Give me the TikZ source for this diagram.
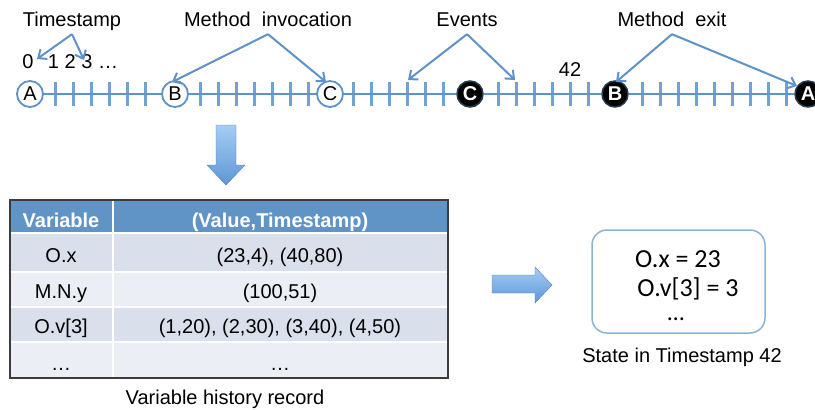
\documentclass[tikz,border=0pt]{standalone}
\usepackage{fontspec}
\setmainfont{Liberation Sans}
\newfontfamily\statefont{Carlito}
\usetikzlibrary{arrows.meta,positioning}

\definecolor{lineblue}{RGB}{94,146,200}
\definecolor{tickblue}{RGB}{112,162,212}
\definecolor{headblue}{RGB}{97,148,198}
\definecolor{rowdark}{RGB}{217,224,236}
\definecolor{rowlight}{RGB}{235,238,244}
\definecolor{edgegray}{RGB}{60,60,60}
\definecolor{boxblue}{RGB}{140,178,218}
\definecolor{fadetop}{RGB}{165,205,245}
\definecolor{fadebot}{RGB}{95,150,215}

\tikzset{
  openpt/.style={circle, draw=lineblue, line width=1.8pt, fill=white,
    minimum size=26pt, inner sep=0pt, font=\fontsize{20}{20}\selectfont},
  closept/.style={circle, draw=black!60!lineblue, line width=1.5pt, fill=black,
    text=white, minimum size=26pt, inner sep=0pt,
    font=\bfseries\fontsize{20}{20}\selectfont},
  tickline/.style={tickblue, line width=3pt},
  axis/.style={lineblue, line width=2.2pt},
  pointer/.style={lineblue, line width=2pt, -{Straight Barb[length=7pt,width=12pt]}},
  callout/.style={anchor=base, text depth=6pt, inner sep=2pt},
  cell/.style={anchor=base},
  headcell/.style={anchor=base, text=white, font=\bfseries\fontsize{20}{24}\selectfont},
  blockarrow/.style={top color=fadetop, bottom color=fadebot, draw=fadebot!85!black, line width=0.4pt},
  statebox/.style={draw=boxblue, line width=1.5pt, rounded corners=15pt,
    minimum width=173pt, minimum height=103pt}
}

\begin{document}
\begin{tikzpicture}[x=1pt, y=-1pt, font=\fontsize{20}{24}\selectfont]
  \useasboundingbox (0,0) rectangle (815,410);

  % ticks of the timeline
  \foreach \t in {55,73,...,145} \draw[tickline] (\t,82) -- (\t,106);
  \foreach \t in {200,218,...,308} \draw[tickline] (\t,82) -- (\t,106);
  \foreach \t in {353,371,...,443} \draw[tickline] (\t,82) -- (\t,106);
  \foreach \t in {498,516,...,588} \draw[tickline] (\t,82) -- (\t,106);
  \foreach \t in {642,660,...,786} \draw[tickline] (\t,82) -- (\t,106);

  % method invocations and exits
  \node[openpt] (tA) at (30,94) {A};
  \node[openpt] (tB) at (175,94) {B};
  \node[openpt] (tC) at (330,94) {C};
  \node[closept] (tC2) at (470,94) {C};
  \node[closept] (tB2) at (615,94) {B};
  \node[closept] (tA2) at (808,94) {A};
  \draw[axis] (tA) -- (tB) -- (tC) -- (tC2) -- (tB2) -- (tA2);

  % labels
  \node[callout] (lStamp) at (72,26) {Timestamp};
  \node[callout] (lInvoke) at (268,26) {Method\ \ invocation};
  \node[callout] (lEvents) at (467,26) {Events};
  \node[callout] (lExit) at (672,26) {Method\ \ exit};
  \node[cell] (n0) at (28,68) {0};
  \node[cell] (n123) at (83,68) {1 2 3 …};
  \node[cell] (n42) at (570,76) {42};

  % pointers
  \coordinate (eZero) at (37,59); \coordinate (eThree) at (84,60);
  \coordinate (eInvB) at (172,82); \coordinate (eInvC) at (326,82);
  \coordinate (eEvL) at (408,80); \coordinate (eEvR) at (515,80);
  \coordinate (eExB) at (616,82); \coordinate (eExA) at (797,86);
  \draw[pointer] (lStamp.south) -- (eZero);
  \draw[pointer] (lStamp.south) -- (eThree);
  \draw[pointer] (lInvoke.south) -- (eInvB);
  \draw[pointer] (lInvoke.south) -- (eInvC);
  \draw[pointer] (lEvents.south) -- (eEvL);
  \draw[pointer] (lEvents.south) -- (eEvR);
  \draw[pointer] (lExit.south) -- (eExB);
  \draw[pointer] (lExit.south) -- (eExA);

  % block arrows
  \shade[blockarrow] (216,125) -- (236,125) -- (236,165) -- (245,165) -- (226,185)
    -- (207,165) -- (216,165) -- cycle;
  \shade[blockarrow] (492,275) -- (535,275) -- (535,267) -- (552,285) -- (535,303)
    -- (535,293) -- (492,293) -- cycle;

  % history table
  \fill[headblue] (10,200) rectangle (448,233);
  \fill[rowdark] (10,233) rectangle (448,272);
  \fill[rowlight] (10,272) rectangle (448,307);
  \fill[rowdark] (10,307) rectangle (448,342);
  \fill[rowlight] (10,342) rectangle (448,378);
  \foreach \y in {233,272,307,342} \draw[white, line width=2pt] (10,\y) -- (448,\y);
  \draw[white, line width=2pt] (113,200) -- (113,378);
  \draw[edgegray, line width=1.5pt] (10,200) rectangle (448,378);

  \node[headcell] (hVar) at (61,227) {Variable};
  \node[headcell] (hVal) at (280,227) {(Value,Timestamp)};
  \node[cell] (vOx) at (61,262) {O.x};
  \node[cell] (rOx) at (280,262) {(23,4), (40,80)};
  \node[cell] (vMNy) at (61,298) {M.N.y};
  \node[cell] (rMNy) at (280,298) {(100,51)};
  \node[cell] (vOv) at (61,333) {O.v[3]};
  \node[cell] (rOv) at (280,333) {(1,20), (2,30), (3,40), (4,50)};
  \node[cell] (vMore) at (61,370) {…};
  \node[cell] (rMore) at (280,370) {…};
  \node[cell] (histcap) at (225,404) {Variable history record};

  % state at timestamp 42
  \node[statebox] (state) at (678.5,281.5) {};
  \node[cell, font=\statefont\fontsize{26}{30}\selectfont] (sOx) at (678,267) {O.x = 23};
  \node[cell, font=\statefont\fontsize{26}{30}\selectfont] (sOv) at (688,296) {O.v[3] = 3};
  \node[cell, font=\statefont\fontsize{24}{28}\selectfont] (sMore) at (676,320) {…};
  \node[cell] (statecap) at (682,362) {State in Timestamp 42};
\end{tikzpicture}
\end{document}
